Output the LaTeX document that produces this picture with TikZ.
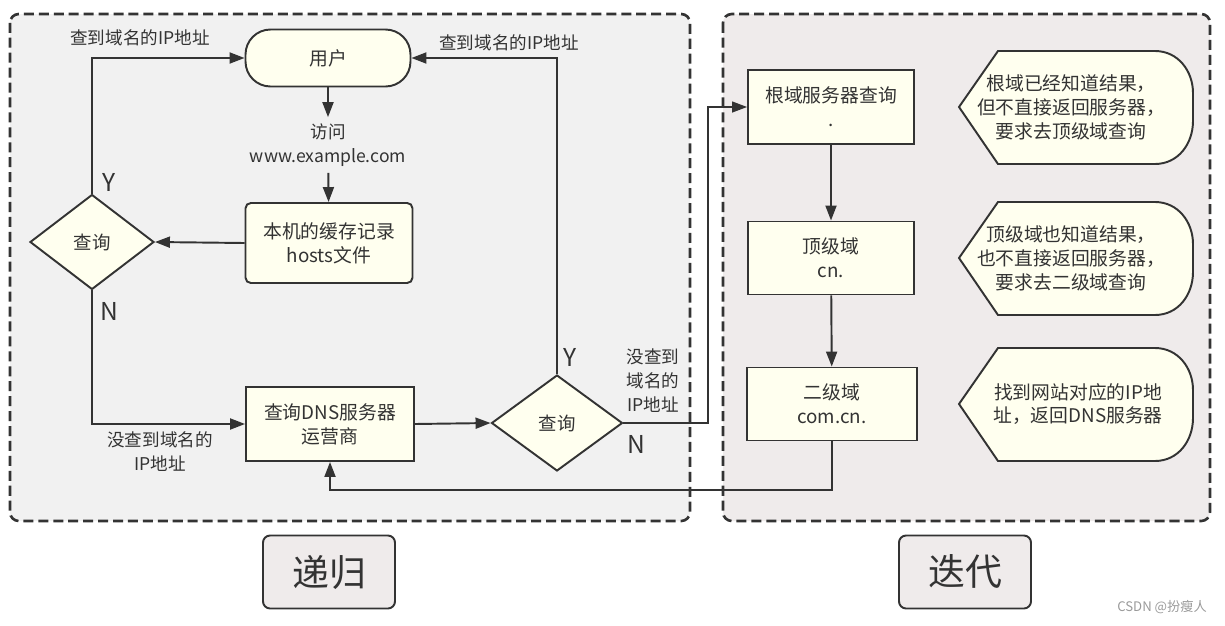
\documentclass[tikz,border=0pt]{standalone}
\usepackage{fontspec}
\setmainfont{Noto Sans CJK SC}
\usetikzlibrary{shapes.geometric,arrows.meta,positioning}

\definecolor{linec}{HTML}{333333}
\definecolor{boxfill}{HTML}{FFFFEF}
\definecolor{leftbg}{HTML}{F1F1F1}
\definecolor{rightbg}{HTML}{EFEBEB}
\definecolor{markgray}{HTML}{9A9A9A}

\tikzset{
  proc/.style={draw=linec, fill=boxfill, line width=1.1pt, text=linec, align=center,
    font=\fontsize{10.7}{13.6}\selectfont, minimum width=3.34cm, minimum height=1.48cm, inner sep=0pt},
  decide/.style={diamond, draw=linec, fill=boxfill, line width=1.1pt, text=linec,
    font=\fontsize{10.5}{13.6}\selectfont, inner sep=0pt},
  flow/.style={draw=linec, line width=1.1pt, -{Triangle[length=0.3cm,width=0.22cm]}},
  lbl/.style={text=linec, align=center, font=\fontsize{10}{13.6}\selectfont, inner sep=0pt},
  yn/.style={text=linec, font=\fontsize{14}{14}\selectfont, inner sep=0pt},
  frame/.style={draw=linec, line width=1.5pt, dash pattern=on 5.7pt off 2.8pt, rounded corners=5pt},
  note/.style={draw=linec, fill=boxfill, line width=1.1pt},
  tag/.style={draw=linec, fill=rightbg, line width=1.1pt, rounded corners=4pt, text=linec,
    minimum width=2.64cm, minimum height=1.46cm, font=\fontsize{21}{21}\selectfont},
}

\begin{document}
\begin{tikzpicture}[x=0.02cm, y=-0.02cm]
    \useasboundingbox (0,0) rectangle (1225,626);

    % Frames
    \draw [frame, fill=leftbg] (10,14) rectangle (690,521);
    \draw [frame, fill=rightbg] (723,14) rectangle (1210,521);

    % Recursive side
    \node [proc, rounded corners=0.5cm, minimum width=3.3cm, minimum height=1.14cm] (user) at (328,58) {用户};
    \node [lbl, minimum height=1.1cm] (visit) at (328,145) {访问\\www.example.com};
    \node [proc, rounded corners=3pt, minimum width=3.34cm, minimum height=1.6cm] (cache) at (329,243) {本机的缓存记录\\hosts文件};
    \node [decide, minimum width=2.48cm, minimum height=1.9cm] (q1) at (92,242) {查询};
    \node [proc, minimum width=3.36cm] (dns) at (330,424) {查询DNS服务器\\运营商};
    \node [decide, minimum width=2.62cm, minimum height=1.92cm] (q2) at (557,423) {查询};

    \draw [flow] (user) -- (visit);
    \draw [flow] (visit) -- (cache);
    \draw [flow] (cache.west) -- (q1.east);
    \draw [flow] (q1.north) |- (user.west);
    \draw [flow] (q1.south) |- (dns.west);
    \draw [flow] (dns.east) -- (q2.west);
    \draw [flow] (q2.north) |- (user.east);

    \node [lbl] (hit1) at (140,38) {查到域名的IP地址};
    \node [lbl] (hit2) at (509,43) {查到域名的IP地址};
    \node [lbl] (miss1) at (160,452) {没查到域名的\\IP地址};
    \node [lbl] (miss2) at (653,381) {没查到\\域名的\\IP地址};
    \node [yn] (y1) at (109,182) {Y};
    \node [yn] (n1) at (109,311) {N};
    \node [yn] (y2) at (570,357) {Y};
    \node [yn] (n2) at (636,444) {N};

    % Iterative side
    \node [proc, minimum width=3.32cm] (root) at (831,107) {根域服务器查询\\.};
    \node [proc, minimum width=3.32cm, minimum height=1.46cm] (tld) at (831,258) {顶级域\\cn.};
    \node [proc, minimum width=3.4cm, minimum height=1.46cm] (sld) at (832,404) {二级域\\com.cn.};

    \coordinate (bend) at (708,423);
    \coordinate (back) at (832,490);
    \draw [flow, line width=0.7pt] (q2.east) -- (bend) |- (root.west);
    \draw [flow] (root) -- (tld);
    \draw [flow] (tld) -- (sld);
    \draw [flow] (sld.south) -- (back) -| (dns.south);

    % Notes
    \foreach \cy in {107,258,404}
      \draw [note] (959,\cy) -- (998,\cy-56) -- (1155,\cy-56)
        .. controls (1178,\cy-56) and (1193,\cy-36) .. (1193,\cy-14) -- (1193,\cy+14)
        .. controls (1193,\cy+37) and (1178,\cy+57) .. (1155,\cy+57) -- (998,\cy+57) -- cycle;
    \node [lbl, font=\fontsize{10.7}{13.6}\selectfont] (note1) at (1071,107) {根域已经知道结果，\\但不直接返回服务器，\\要求去顶级域查询};
    \node [lbl, font=\fontsize{10.7}{13.6}\selectfont] (note2) at (1071,258) {顶级域也知道结果，\\也不直接返回服务器，\\要求去二级域查询};
    \node [lbl, font=\fontsize{10.7}{13.6}\selectfont] (note3) at (1078,404) {找到网站对应的IP地\\址，返回DNS服务器};

    % Titles
    \node [tag] (recur) at (329,572) {递归};
    \node [tag] (iter) at (965,572) {迭代};
    \node [text=markgray, font=\fontsize{7.5}{7.5}\selectfont, inner sep=0pt] (mark) at (1162,607) {CSDN @扮瘦人};
\end{tikzpicture}
\end{document}
